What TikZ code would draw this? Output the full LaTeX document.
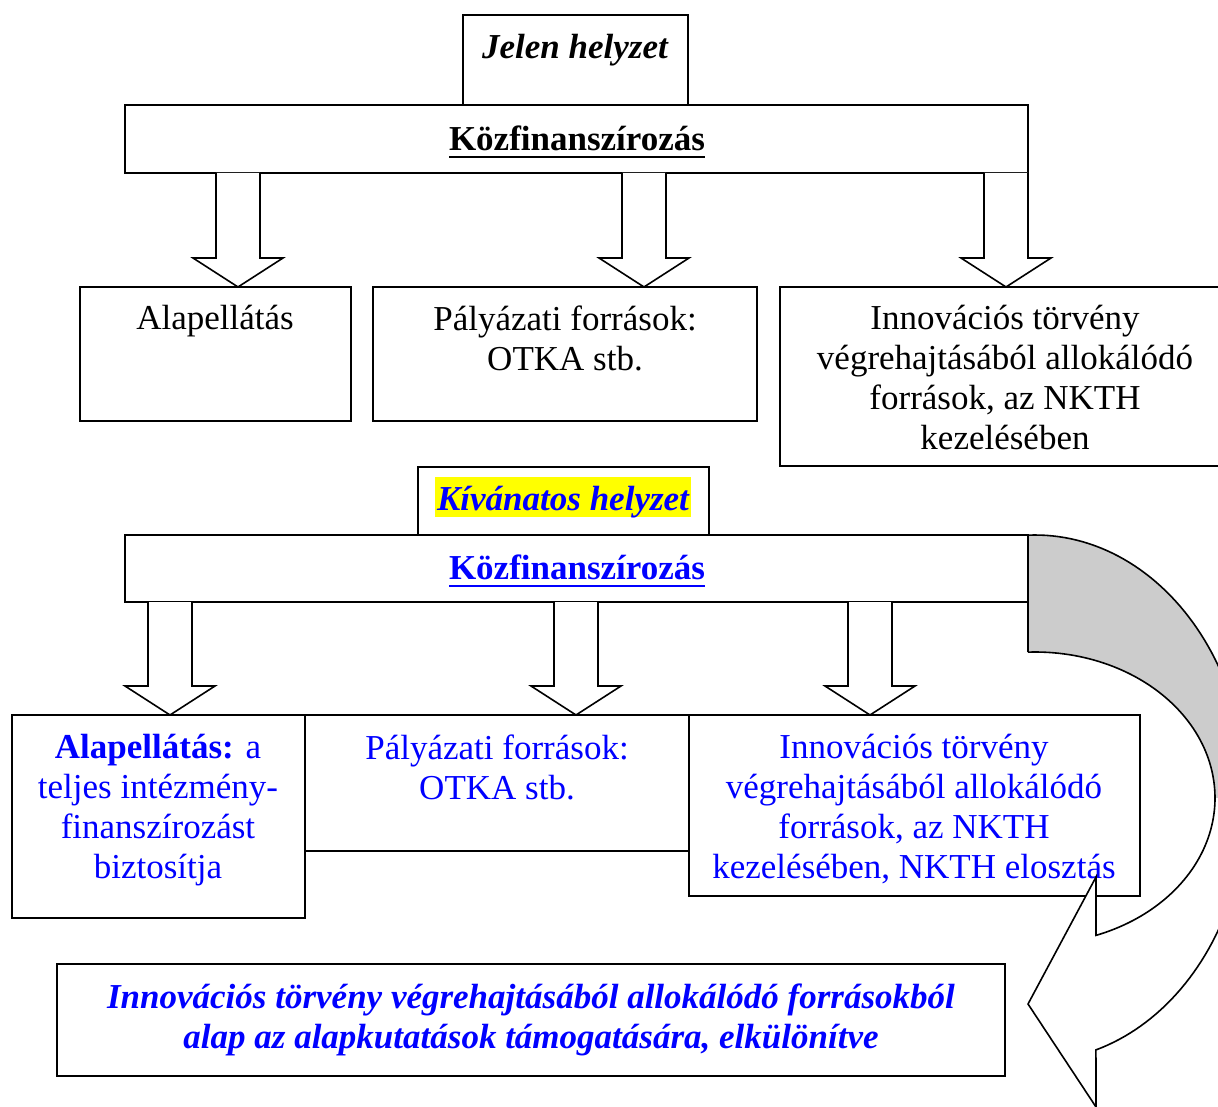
\documentclass[tikz,border=0pt]{standalone}
\usepackage{fontspec}
\setmainfont{Liberation Serif}
\usetikzlibrary{calc}
\definecolor{hlyellow}{RGB}{255,255,0}
\definecolor{backgray}{RGB}{204,204,204}
% thick underline for the headings
\newcommand{\thickul}[1]{\setbox0\hbox{#1}\rlap{\rule[-4.2pt]{\wd0}{1.4pt}}\box0}
% block arrow from a coordinate down to the top of a node
\newcommand{\blockarrow}[2]{%
  \draw[blockarr] let \p1=(#1), \p2=(#1 |- #2.north) in
    (\x1-11pt,\y1) -- (\x1-11pt,\y2+14.5pt) -- (\x1-22.5pt,\y2+14.5pt) -- (\x2,\y2)
    -- (\x1+22.5pt,\y2+14.5pt) -- (\x1+11pt,\y2+14.5pt) -- (\x1+11pt,\y1);}
\tikzset{
  box/.style={draw, line width=0.8pt, fill=white, rectangle, inner sep=0pt, outer sep=0pt, anchor=north west},
  txt/.style={anchor=north, align=center, inner sep=0pt, font=\fontsize{17.5}{20}\selectfont},
  txtb/.style={txt, font=\fontsize{17.5}{20}\selectfont\bfseries},
  txtbi/.style={txt, font=\fontsize{17.5}{20}\selectfont\bfseries\itshape},
  blockarr/.style={draw, line width=0.8pt, fill=white, line join=miter},
}
\begin{document}
\begin{tikzpicture}[x=0.5pt, y=-0.5pt]
	\useasboundingbox (0,0) rectangle (1218,1106);
	\clip (0,0) rectangle (1218,1106);
	% Jelen helyzet:
	\node[box, minimum width=112.5pt, minimum height=45pt] (jelen) at (463,15) {};
	\node[box, minimum width=451.5pt, minimum height=34pt] (kf1) at (125,105) {};
	\node[box, minimum width=135.5pt, minimum height=67pt] (alap1) at (80,287) {};
	\node[box, minimum width=192pt, minimum height=67pt] (palya1) at (373,287) {};
	\node[box, minimum width=230pt, minimum height=89.5pt] (innov1) at (780,287) {};
	\node[txtbi] (jelenT) at (575,34) {Jelen helyzet};
	\node[txtb] (kf1T) at (577,125) {\thickul{Közfinanszírozás}};
	\node[txt] (alap1T) at (215,305) {Alapellátás};
	\node[txt] (palya1T) at (565,305) {Pályázati források:\\OTKA stb.};
	\node[txt] (innov1T) at (1005,305) {Innovációs törvény\\végrehajtásából allokálódó\\források, az NKTH\\kezelésében};
	\coordinate (ka1) at (238,173);
	\coordinate (ka2) at (644,173);
	\coordinate (ka3) at (1006,173);
	\blockarrow{ka1}{alap1}
	\blockarrow{ka2}{palya1}
	\blockarrow{ka3}{innov1}
	% Kivanatos helyzet:
	\node[box, minimum width=145.5pt, minimum height=34pt] (kivan) at (418,467) {};
	\node[box, minimum width=451.5pt, minimum height=33.5pt] (kf2) at (125,535) {};
	\node[box, minimum width=146.5pt, minimum height=101.5pt] (alap2) at (12,715) {};
	\node[box, minimum width=192pt, minimum height=68pt] (palya2) at (305,715) {};
	\node[box, minimum width=225.5pt, minimum height=90.5pt] (innov2) at (689,715) {};
	\node[box, minimum width=474pt, minimum height=56pt] (alapkut) at (57,964) {};
	\node[txtbi, fill=hlyellow, inner xsep=1pt, text height=16.5pt, text depth=3.5pt, text=blue] (kivanT) at (563,477) {Kívánatos helyzet};
	\node[txtb, text=blue] (kf2T) at (577,554) {\thickul{Közfinanszírozás}};
	\node[txt, text=blue] (alap2T) at (158,734) {\textbf{Alapellátás:} a\\teljes intézmény-\\finanszírozást\\biztosítja};
	\node[txt, text=blue] (palya2T) at (497,734) {Pályázati források:\\OTKA stb.};
	\node[txt, text=blue] (innov2T) at (914,734) {Innovációs törvény\\végrehajtásából allokálódó\\források, az NKTH\\kezelésében, NKTH elosztás};
	\node[txtbi, text=blue] (alapkutT) at (531,983) {Innovációs törvény végrehajtásából allokálódó forrásokból\\alap az alapkutatások támogatására, elkülönítve};
	\coordinate (kb1) at (170,602);
	\coordinate (kb2) at (576,602);
	\coordinate (kb3) at (870,602);
	\blockarrow{kb1}{alap2}
	\blockarrow{kb2}{palya2}
	\blockarrow{kb3}{innov2}
	% curved arrow on the right
	\fill[backgray] (1028,535) -- plot[domain=-91.9:0, samples=50] ({1035+212*cos(\x)},{798+263*sin(\x)})
		-- plot[domain=0:-92.2, samples=50] ({1035+180*cos(\x)},{798+146*sin(\x)}) -- cycle;
	\fill[white] (1247,798) -- plot[domain=0:73.3, samples=50] ({1035+212*cos(\x)},{798+263*sin(\x)})
		-- (1096,1107) -- (1028,1004) -- (1096,877)
		-- plot[domain=70.2:0, samples=50] ({1035+180*cos(\x)},{798+146*sin(\x)}) -- cycle;
	\draw[line width=0.8pt, line join=miter] (1028,652) -- (1028,535)
		-- plot[domain=-91.9:73.3, samples=100] ({1035+212*cos(\x)},{798+263*sin(\x)})
		-- (1096,1107) -- (1028,1004) -- (1096,877)
		-- plot[domain=70.2:-92.2, samples=100] ({1035+180*cos(\x)},{798+146*sin(\x)});
\end{tikzpicture}
\end{document}
